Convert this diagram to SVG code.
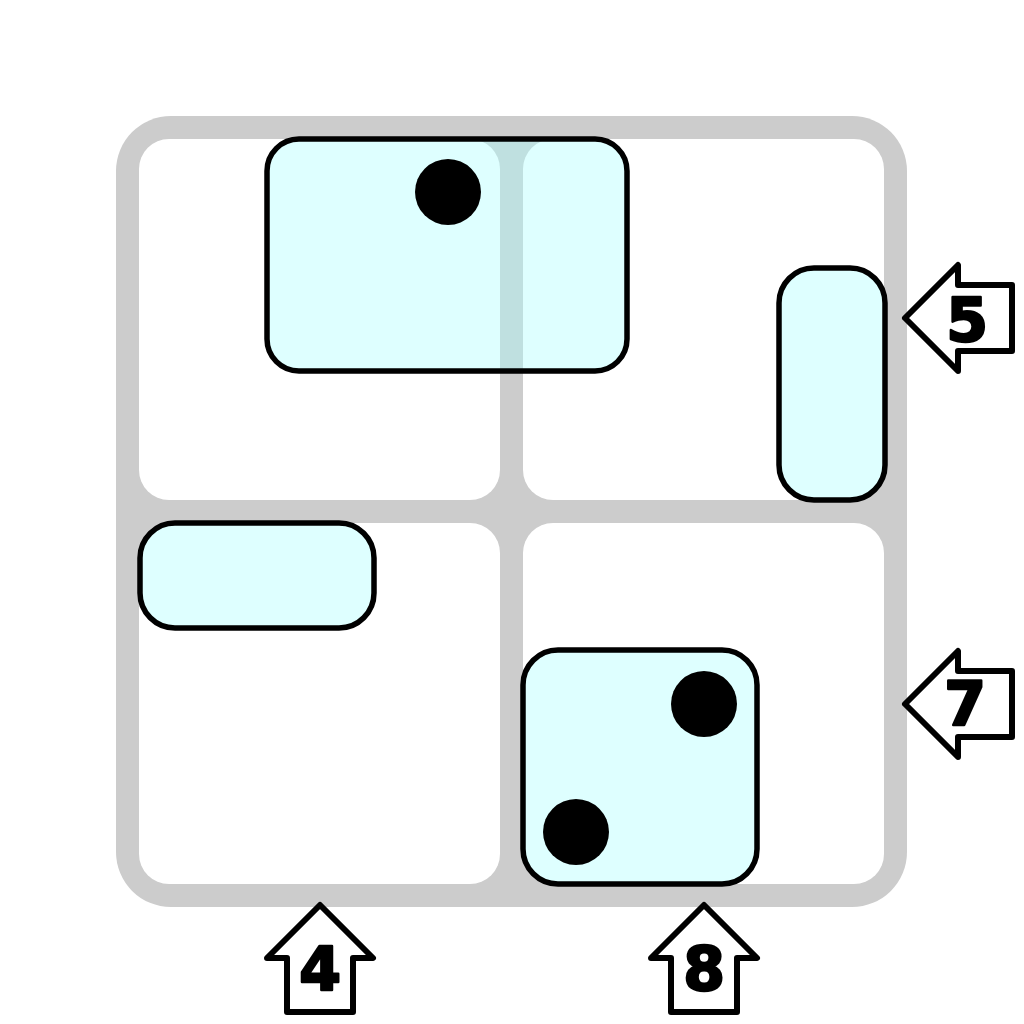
<svg xmlns="http://www.w3.org/2000/svg" width="1024" height="1024" viewBox="0 0 1024 1024">
  <style>
    .cell { fill: #ffffff; }
    .block { fill: #adffff; fill-opacity: 0.4; stroke: #000000; stroke-width: 5.5; }
    .dot { fill: #000000; }
    .arrow { fill: #ffffff; stroke: #000000; stroke-width: 6; stroke-linejoin: round; }
    .num { font-family: "DejaVu Sans", "Liberation Sans", sans-serif; font-weight: bold; font-size: 60px; fill: #000000; stroke: #000000; stroke-width: 2.5; stroke-linejoin: round; text-anchor: middle; }
  </style>
  <rect width="1024" height="1024" fill="#ffffff"/>
  <g id="board">
    <rect x="116" y="116" width="791" height="791" rx="55" fill="#cccccc"/>
    <rect class="cell" x="139" y="139" width="361" height="361" rx="30"/>
    <rect class="cell" x="523" y="139" width="361" height="361" rx="30"/>
    <rect class="cell" x="139" y="523" width="361" height="361" rx="30"/>
    <rect class="cell" x="523" y="523" width="361" height="361" rx="30"/>
  </g>
  <g id="block-top">
    <rect class="block" x="267" y="139" width="360" height="232" rx="32"/>
    <circle class="dot" cx="448" cy="192" r="33"/>
  </g>
  <g id="block-right">
    <rect class="block" x="779" y="268" width="106" height="232" rx="35"/>
  </g>
  <g id="block-left">
    <rect class="block" x="140" y="523" width="234" height="105" rx="35"/>
  </g>
  <g id="block-bottom">
    <rect class="block" x="523" y="650" width="234" height="234" rx="35"/>
    <circle class="dot" cx="704" cy="704" r="33"/>
    <circle class="dot" cx="576" cy="832" r="33"/>
  </g>
  <g id="connectors">
    <g id="arrow-5">
      <path class="arrow" d="M905,318 L958,265 L958,285 L1012,285 L1012,351 L958,351 L958,371 Z"/>
      <text class="num" x="967" y="341">5</text>
    </g>
    <g id="arrow-7">
      <path class="arrow" d="M905,704 L958,651 L958,671 L1012,671 L1012,737 L958,737 L958,757 Z"/>
      <text class="num" x="965" y="725">7</text>
    </g>
    <g id="arrow-4">
      <path class="arrow" d="M320,905 L373,958 L353,958 L353,1012 L287,1012 L287,958 L267,958 Z"/>
      <text class="num" x="320" y="990">4</text>
    </g>
    <g id="arrow-8">
      <path class="arrow" d="M704,905 L757,958 L737,958 L737,1012 L671,1012 L671,958 L651,958 Z"/>
      <text class="num" x="704" y="990">8</text>
    </g>
  </g>
</svg>
